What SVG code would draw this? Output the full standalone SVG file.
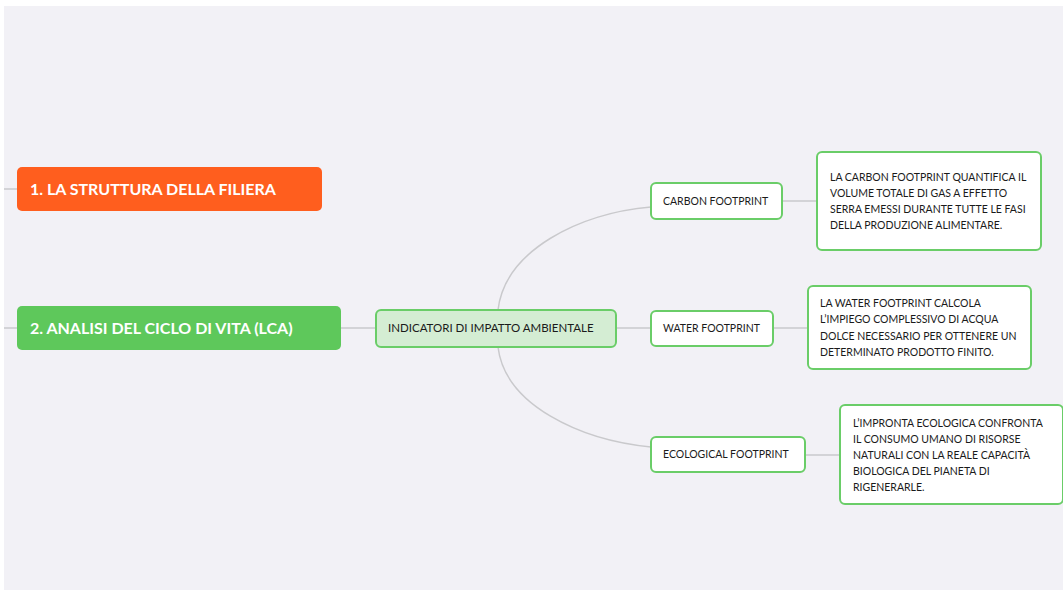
<svg xmlns="http://www.w3.org/2000/svg" width="1063" height="590" viewBox="0 0 1063 590">
  <style>
    .lnk { fill: none; stroke: #c9c9cc; stroke-width: 1.5; }
    .main-txt { font-family: Lato, "Open Sans", sans-serif; font-weight: bold; font-size: 16px; fill: #ffffff; }
    .sub { fill: #ffffff; stroke: #6acd68; stroke-width: 2; }
    .sub-txt { font-family: Lato, "Open Sans", sans-serif; font-size: 10.5px; fill: #1a1a1a; }
    .desc-txt { font-family: Lato, "Open Sans", sans-serif; font-size: 10.5px; fill: #1a1a1a; }
  </style>
  <rect x="0" y="0" width="1063" height="590" fill="#ffffff"/>
  <rect x="4" y="6" width="1059" height="584" fill="#f2f1f6"/>

  <g id="connectors">
    <line class="lnk" x1="4" y1="189" x2="17" y2="189"/>
    <line class="lnk" x1="4" y1="328" x2="17" y2="328"/>
    <line class="lnk" x1="341" y1="328" x2="376" y2="328"/>
    <path class="lnk" d="M498,310 C505,250 580,213 651,207"/>
    <line class="lnk" x1="616" y1="328" x2="651" y2="328"/>
    <path class="lnk" d="M498,347 C505,405 580,440 651,447"/>
    <line class="lnk" x1="782" y1="201" x2="817" y2="201"/>
    <line class="lnk" x1="773" y1="328" x2="808" y2="328"/>
    <line class="lnk" x1="805" y1="455" x2="840" y2="455"/>
  </g>

  <g id="filiera">
    <rect x="17" y="167" width="305" height="44" rx="5" fill="#ff5e1e"/>
    <text class="main-txt" x="30" y="195">1. LA STRUTTURA DELLA FILIERA</text>
  </g>

  <g id="lca">
    <rect x="17" y="306" width="324" height="44" rx="5" fill="#5ec85b"/>
    <text class="main-txt" x="30" y="334">2. ANALISI DEL CICLO DI VITA (LCA)</text>
  </g>

  <g id="indicatori">
    <rect x="376" y="310" width="240" height="37" rx="5" fill="#d4edd3" stroke="#6acd68" stroke-width="2"/>
    <text x="388" y="332" font-family="Lato, 'Open Sans', sans-serif" font-size="11.5" fill="#1a1a1a">INDICATORI DI IMPATTO AMBIENTALE</text>
  </g>

  <g id="carbon">
    <rect class="sub" x="651" y="183" width="131" height="36" rx="5"/>
    <text class="sub-txt" x="663" y="205">CARBON FOOTPRINT</text>
  </g>

  <g id="water">
    <rect class="sub" x="651" y="311" width="122" height="35" rx="5"/>
    <text class="sub-txt" x="663" y="332">WATER FOOTPRINT</text>
  </g>

  <g id="ecological">
    <rect class="sub" x="651" y="437" width="154" height="35" rx="5"/>
    <text class="sub-txt" x="663" y="458">ECOLOGICAL FOOTPRINT</text>
  </g>

  <g id="carbon-desc">
    <rect class="sub" x="817" y="152" width="224" height="98" rx="5"/>
    <text class="desc-txt" x="830" y="181">LA CARBON FOOTPRINT QUANTIFICA IL</text>
    <text class="desc-txt" x="830" y="197">VOLUME TOTALE DI GAS A EFFETTO</text>
    <text class="desc-txt" x="830" y="213">SERRA EMESSI DURANTE TUTTE LE FASI</text>
    <text class="desc-txt" x="830" y="229">DELLA PRODUZIONE ALIMENTARE.</text>
  </g>

  <g id="water-desc">
    <rect class="sub" x="808" y="286" width="223" height="83" rx="5"/>
    <text class="desc-txt" x="820" y="307">LA WATER FOOTPRINT CALCOLA</text>
    <text class="desc-txt" x="820" y="323">L’IMPIEGO COMPLESSIVO DI ACQUA</text>
    <text class="desc-txt" x="820" y="340">DOLCE NECESSARIO PER OTTENERE UN</text>
    <text class="desc-txt" x="820" y="356">DETERMINATO PRODOTTO FINITO.</text>
  </g>

  <g id="eco-desc">
    <rect class="sub" x="840" y="405" width="223" height="99" rx="5"/>
    <text class="desc-txt" x="853" y="427">L’IMPRONTA ECOLOGICA CONFRONTA</text>
    <text class="desc-txt" x="853" y="443">IL CONSUMO UMANO DI RISORSE</text>
    <text class="desc-txt" x="853" y="459">NATURALI CON LA REALE CAPACITÀ</text>
    <text class="desc-txt" x="853" y="475">BIOLOGICA DEL PIANETA DI</text>
    <text class="desc-txt" x="853" y="491">RIGENERARLE.</text>
  </g>
</svg>
